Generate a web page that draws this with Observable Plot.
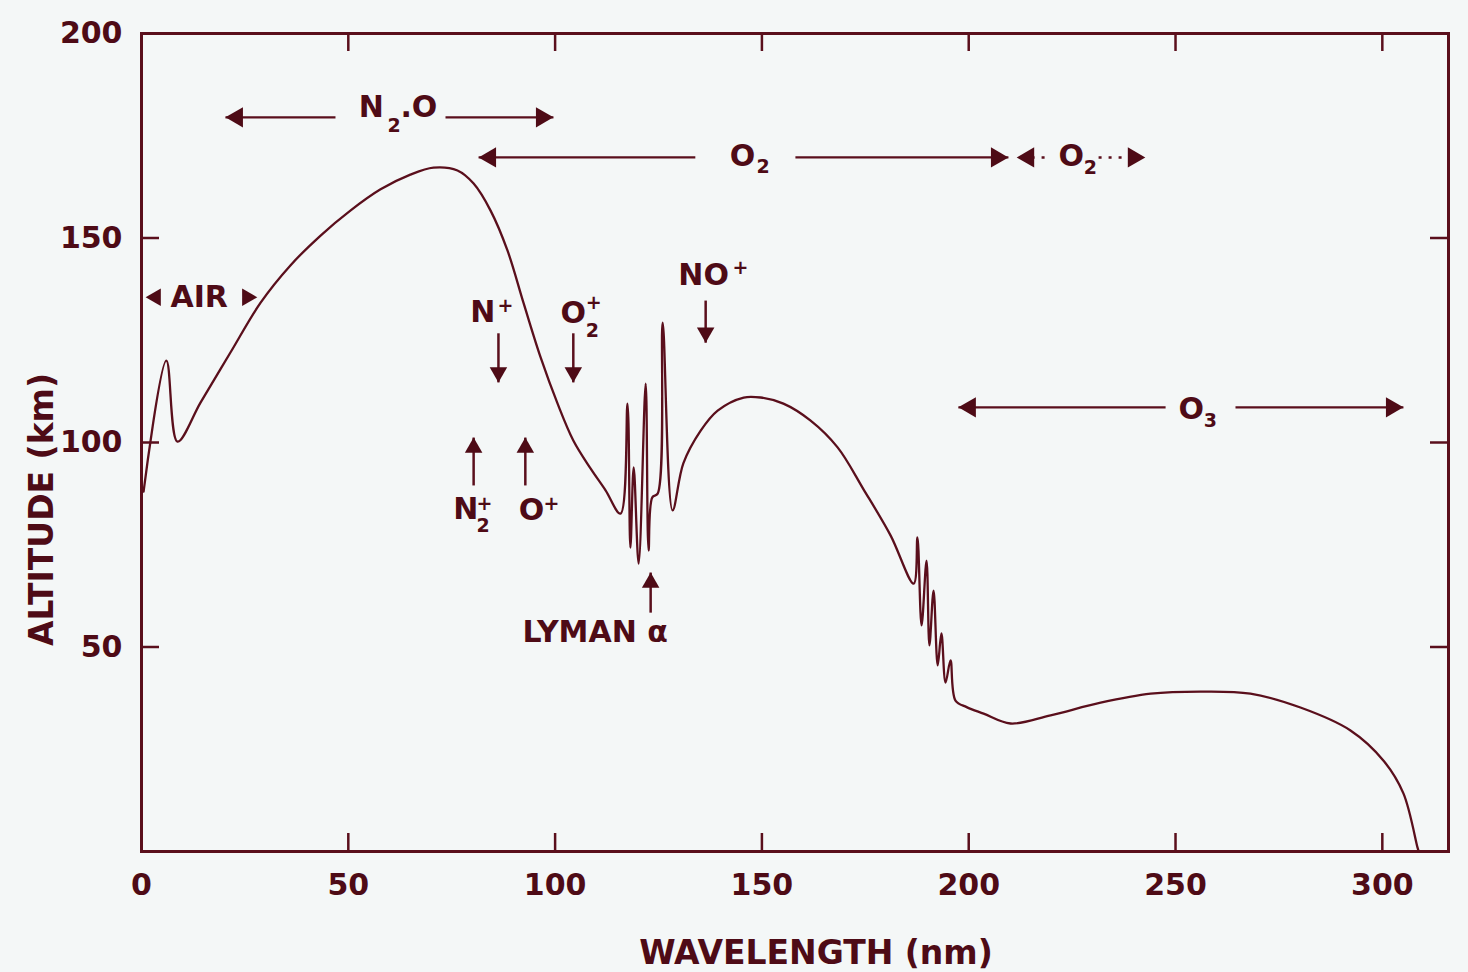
<!DOCTYPE html>
<html><head><meta charset="utf-8">
<script src="https://cdn.jsdelivr.net/npm/d3@7"></script>
<script src="https://cdn.jsdelivr.net/npm/@observablehq/plot@0.6"></script>
<style>
html,body{margin:0;padding:0;background:#f4f7f7;}
</style></head><body><div id="chart"></div>
<script>
// Curve: wavelength (nm) vs altitude (km) of unit optical depth
const wavelength = [0.5, 6.0, 8.7, 14.3, 21.5, 28.8, 36.0, 43.3, 50.5, 57.8, 65.0, 70.6, 76.4, 80.3, 84.4, 88.5, 92.4, 96.5, 100.6, 104.4, 108.6, 112.2, 115.8,
  117.5, 118.2, 119.0, 120.2, 121.9, 122.6, 123.5, 124.8, 126.0, 128.4,
  131.0, 135.2, 139.3, 145.6, 149.7, 155.2, 161.7, 168.3, 174.6, 181.1, 186.7,
  187.6, 188.6, 189.8, 190.5, 191.5, 192.5, 193.4, 194.4, 195.6, 196.8,
  199.5, 203.6, 210.1, 219.8, 231.9, 244.0, 256.0, 268.1, 280.2, 292.3, 300.3, 305.1, 308.5, 308.8];
const altitude = [88.0, 120.0, 100.2, 109.8, 122.0, 134.2, 143.3, 150.6, 156.7, 161.9, 165.5, 167.2, 166.5, 163.3, 156.7, 146.9, 134.0, 120.8, 109.5, 100.5, 93.6, 88.3, 82.6,
  109.5, 74.3, 93.9, 70.4, 114.4, 73.6, 86.6, 87.5, 129.3, 83.4,
  94.9, 102.9, 107.8, 111.0, 111.0, 109.5, 105.4, 98.8, 88.5, 77.3, 65.5,
  76.8, 55.3, 71.1, 50.4, 63.8, 45.5, 53.3, 41.3, 46.7, 36.9,
  35.3, 33.7, 31.3, 33.3, 36.4, 38.6, 39.1, 38.6, 35.2, 29.6, 22.2, 14.2, 1.0, 0.0];

const xTicks = [0, 50, 100, 150, 200, 250, 300];
const yTicks = [50, 100, 150, 200];
const xInnerTicks = [50, 100, 150, 200, 250, 300];
const yInnerTicks = [50, 100, 150];

// Horizontal arrow shafts (solid)
const shaftY  = [179.5, 179.5, 169.7, 169.7, 108.6, 108.6];
const shaftX1 = [20.3, 73.5, 81.5, 158.1, 197.5, 264.5];
const shaftX2 = [46.9, 99.6, 133.9, 209.6, 247.6, 305.1];
// Dotted O2 shaft pieces
const dotY  = [169.7, 169.7];
const dotX1 = [215.2, 231.4];
const dotX2 = [219.8, 238.6];
// Vertical arrow shafts
const vShaftX  = [86.3, 104.4, 136.4, 80.3, 92.8, 123.1];
const vShaftY1 = [126.7, 126.7, 134.7, 89.5, 89.5, 58.4];
const vShaftY2 = [114.7, 114.7, 124.4, 101.2, 101.2, 68.2];
// Arrow tips
const leftTipX  = [20.3, 81.5, 211.6, 197.5];
const leftTipY  = [179.5, 169.7, 169.7, 108.6];
const rightTipX = [99.6, 209.6, 242.7, 305.1];
const rightTipY = [179.5, 169.7, 169.7, 108.6];
const airTipX = [1.0, 28.0];
const airTipY = [135.5, 135.5];
const airTipDir = [-90, 90];
const downTipX = [86.3, 104.4, 136.4];
const downTipY = [114.7, 114.7, 124.4];
const upTipX = [80.3, 92.8, 123.1];
const upTipY = [101.2, 101.2, 68.2];

// Labels (start-anchored)
const labelText = ["N", ".O", "O", "O", "AIR", "N", "O", "NO", "N", "O", "LYMAN α", "O"];
const labelX = [52.5, 62.6, 142.2, 221.7, 7.0, 79.5, 101.3, 129.8, 75.4, 91.2, 92.1, 250.7];
const labelY = [181.9, 181.9, 169.9, 169.9, 135.5, 131.8, 131.5, 140.8, 83.6, 83.4, 53.5, 108.1];
// Sub/superscripts
const scriptText = ["2", "2", "2", "+", "+", "2", "+", "+", "2", "+", "3"];
const scriptX = [59.5, 148.7, 227.8, 86.1, 107.4, 107.4, 142.9, 81.0, 81.0, 97.2, 256.8];
const scriptY = [177.5, 167.5, 167.2, 133.5, 134.2, 127.4, 142.8, 85.1, 79.7, 85.1, 105.4];

const C = "#4e0b16";
const LC = "#5a0f1c";
const F = "DejaVu Sans";
const W = 1468, H = 972, mL = 141, mR = 20, mT = 33, mB = 121;
const pw = W - mL - mR, ph = H - mT - mB;

const curve = wavelength.map((w, i) => ({w, a: altitude[i]}));
const zip = (xs, ys) => xs.map((x, i) => ({x, y: ys[i]}));
const shafts = shaftY.map((y, i) => ({y, x1: shaftX1[i], x2: shaftX2[i]}));
const dots = dotY.map((y, i) => ({y, x1: dotX1[i], x2: dotX2[i]}));
const vShafts = vShaftX.map((x, i) => ({x, y1: vShaftY1[i], y2: vShaftY2[i]}));
const airTips = airTipX.map((x, i) => ({x, y: airTipY[i], r: airTipDir[i]}));
const labels = labelText.map((t, i) => ({t, x: labelX[i], y: labelY[i]}));
const scripts = scriptText.map((t, i) => ({t, x: scriptX[i], y: scriptY[i]}));

const headR = 7.5, headA = Math.sqrt(Math.PI * headR * headR / (Math.sqrt(3) * 3)) * 2;
const vR = 6.5, vA = Math.sqrt(Math.PI * vR * vR / (Math.sqrt(3) * 3)) * 2;
const aR = 6.5, aA = Math.sqrt(Math.PI * aR * aR / (Math.sqrt(3) * 3)) * 2;

const chart = Plot.plot({
  width: W, height: H,
  marginLeft: mL, marginRight: mR, marginTop: mT, marginBottom: mB,
  style: {background: "#f4f7f7", color: C, fontFamily: F, overflow: "visible"},
  x: {domain: [0, 316]},
  y: {domain: [0, 200]},
  marks: [
    Plot.frame({stroke: LC, strokeWidth: 3}),
    Plot.tickX(xInnerTicks, {stroke: LC, strokeWidth: 2.5, insetTop: ph - 18}),
    Plot.tickX(xInnerTicks, {stroke: LC, strokeWidth: 2.5, insetBottom: ph - 18}),
    Plot.tickY(yInnerTicks, {stroke: LC, strokeWidth: 2.5, insetRight: pw - 18}),
    Plot.tickY(yInnerTicks, {stroke: LC, strokeWidth: 2.5, insetLeft: pw - 18}),
    Plot.axisX({ticks: xTicks, tickSize: 0, tickPadding: 22, fontSize: 30, fontWeight: "bold", fontFamily: F, fill: C, label: null, tickFormat: d => String(d)}),
    Plot.axisY({ticks: yTicks, tickSize: 0, tickPadding: 19, fontSize: 30, fontWeight: "bold", fontFamily: F, fill: C, label: null, tickFormat: d => String(d)}),
    Plot.text(["WAVELENGTH (nm)"], {frameAnchor: "bottom", textAnchor: "middle", dx: 21, dy: 112, fontSize: 33, fontWeight: "bold", fontFamily: F, fill: C}),
    Plot.text(["ALTITUDE (km)"], {frameAnchor: "left", textAnchor: "middle", lineAnchor: "middle", rotate: -90, dx: -99, dy: 67, fontSize: 33, fontWeight: "bold", fontFamily: F, fill: C}),
    Plot.line(curve, {x: "w", y: "a", stroke: LC, strokeWidth: 2.3, curve: "catmull-rom"}),
    Plot.link(shafts, {x1: "x1", x2: "x2", y1: "y", y2: "y", stroke: LC, strokeWidth: 2.2}),
    Plot.link(dots, {x1: "x1", x2: "x2", y1: "y", y2: "y", stroke: LC, strokeWidth: 2.5, strokeDasharray: "3,7"}),
    Plot.link(vShafts, {x1: "x", x2: "x", y1: "y1", y2: "y2", stroke: LC, strokeWidth: 2.5}),
    Plot.dot(zip(leftTipX, leftTipY), {x: "x", y: "y", symbol: "triangle", r: headR, rotate: -90, dx: headA, fill: C, stroke: "none"}),
    Plot.dot(zip(rightTipX, rightTipY), {x: "x", y: "y", symbol: "triangle", r: headR, rotate: 90, dx: -headA, fill: C, stroke: "none"}),
    Plot.dot(airTips.filter(d => d.r < 0), {x: "x", y: "y", symbol: "triangle", r: aR, rotate: -90, dx: aA, fill: C, stroke: "none"}),
    Plot.dot(airTips.filter(d => d.r > 0), {x: "x", y: "y", symbol: "triangle", r: aR, rotate: 90, dx: -aA, fill: C, stroke: "none"}),
    Plot.dot(zip(downTipX, downTipY), {x: "x", y: "y", symbol: "triangle", r: vR, rotate: 180, dy: -vA, fill: C, stroke: "none"}),
    Plot.dot(zip(upTipX, upTipY), {x: "x", y: "y", symbol: "triangle", r: vR, rotate: 0, dy: vA, fill: C, stroke: "none"}),
    Plot.text(labels, {x: "x", y: "y", text: "t", textAnchor: "start", fontSize: 30, fontWeight: "bold", fontFamily: F, fill: C}),
    Plot.text(scripts, {x: "x", y: "y", text: "t", textAnchor: "start", fontSize: 19, fontWeight: "bold", fontFamily: F, fill: C})
  ]
});
document.getElementById("chart").appendChild(chart);
</script>
</body></html>
